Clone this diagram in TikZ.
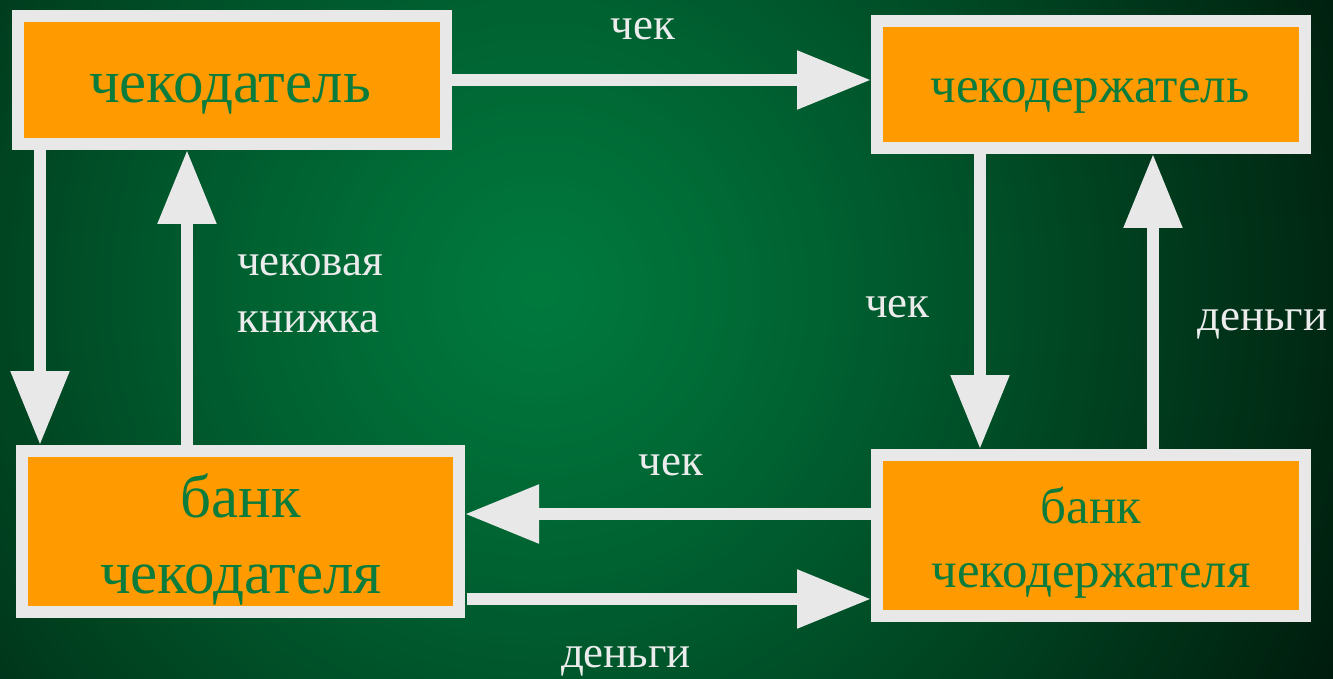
\documentclass[tikz,border=0pt]{standalone}
\usepackage{fontspec}
\setmainfont{Liberation Serif}
\usetikzlibrary{arrows.meta}
\definecolor{bgF}{RGB}{0,26,12}
\definecolor{frameC}{RGB}{232,232,232}
\definecolor{boxC}{RGB}{255,155,0}
\definecolor{txtC}{RGB}{12,124,60}
\definecolor{lblC}{RGB}{236,236,236}
\tikzset{
  box/.style={draw=frameC, fill=boxC, line width=12pt, inner sep=0pt, rectangle},
  arr/.style={draw=frameC, line width=12pt, -{Triangle[length=74pt,width=56pt]}, fill=frameC},
  boxtxt/.style={text=txtC, anchor=base, inner sep=0pt},
  lbl/.style={text=lblC, inner sep=0pt, font=\fontsize{45}{50}\selectfont},
}
\begin{document}
\begin{tikzpicture}[x=1pt,y=-1pt]
\useasboundingbox (0,0) rectangle (1333,679);
\begin{scope}
\clip (0,0) rectangle (1333,679);
\fill[bgF] (0,0) rectangle (1333,679);
\foreach \r in {900,892,...,4} {
  \pgfmathsetmacro{\tt}{(\r/900)^1.2}
  \pgfmathtruncatemacro{\gg}{122-96*\tt}
  \pgfmathtruncatemacro{\bb}{62-50*\tt}
  \definecolor{cc}{RGB}{0,\gg,\bb}
  \fill[cc] (540,290) circle[radius=\r];
}
\end{scope}
% boxes
\node[box, minimum width=428pt, minimum height=128pt] (b1) at (232,80) {};
\node[box, minimum width=428pt, minimum height=127pt] (b2) at (1091,84.5) {};
\node[box, minimum width=437pt, minimum height=161pt] (b3) at (240.5,531.5) {};
\node[box, minimum width=428pt, minimum height=161pt] (b4) at (1091,535.5) {};
% box texts
\node[boxtxt, font=\fontsize{61}{64}\selectfont] (t1) at (230,103) {чекодатель};
\node[boxtxt, font=\fontsize{51}{54}\selectfont] (t2) at (1090,103) {чекодержатель};
\node[boxtxt, font=\fontsize{61}{64}\selectfont] (t3a) at (241,517) {банк};
\node[boxtxt, font=\fontsize{61}{64}\selectfont] (t3b) at (241,593) {чекодателя};
\node[boxtxt, font=\fontsize{51}{54}\selectfont] (t4a) at (1091,523) {банк};
\node[boxtxt, font=\fontsize{51}{54}\selectfont] (t4b) at (1091,587) {чекодержателя};
% arrows
\draw[arr] (b1.east) -- (b1.east -| b2.west);
\draw[arr] ([xshift=28pt]b1.south west) -- ([xshift=28pt]b1.south west |- b3.north);
\draw[arr] ([xshift=171pt]b3.north west) -- ([xshift=171pt]b3.north west |- b1.south);
\draw[arr] ([xshift=109pt]b2.south west) -- ([xshift=109pt]b2.south west |- b4.north);
\draw[arr] ([xshift=282pt]b4.north west) -- ([xshift=282pt]b4.north west |- b2.south);
\draw[arr] ([yshift=-65pt]b4.north west) -- ([yshift=-65pt]b4.north west -| b3.east);
\coordinate (s6) at ([xshift=2pt,yshift=-154pt]b3.north east);
\draw[arr] (s6) -- (s6 -| b4.west);
% labels
\node[lbl, anchor=base] (l1) at (643,40) {чек};
\node[lbl, anchor=base west] (l2a) at (237,275) {чековая};
\node[lbl, anchor=base west] (l2b) at (237,332) {книжка};
\node[lbl, anchor=base west] (l3) at (865,317) {чек};
\node[lbl, anchor=base west] (l4) at (1197,330) {деньги};
\node[lbl, anchor=base] (l5) at (671,475) {чек};
\node[lbl, anchor=base] (l6) at (626,667) {деньги};
\end{tikzpicture}
\end{document}
